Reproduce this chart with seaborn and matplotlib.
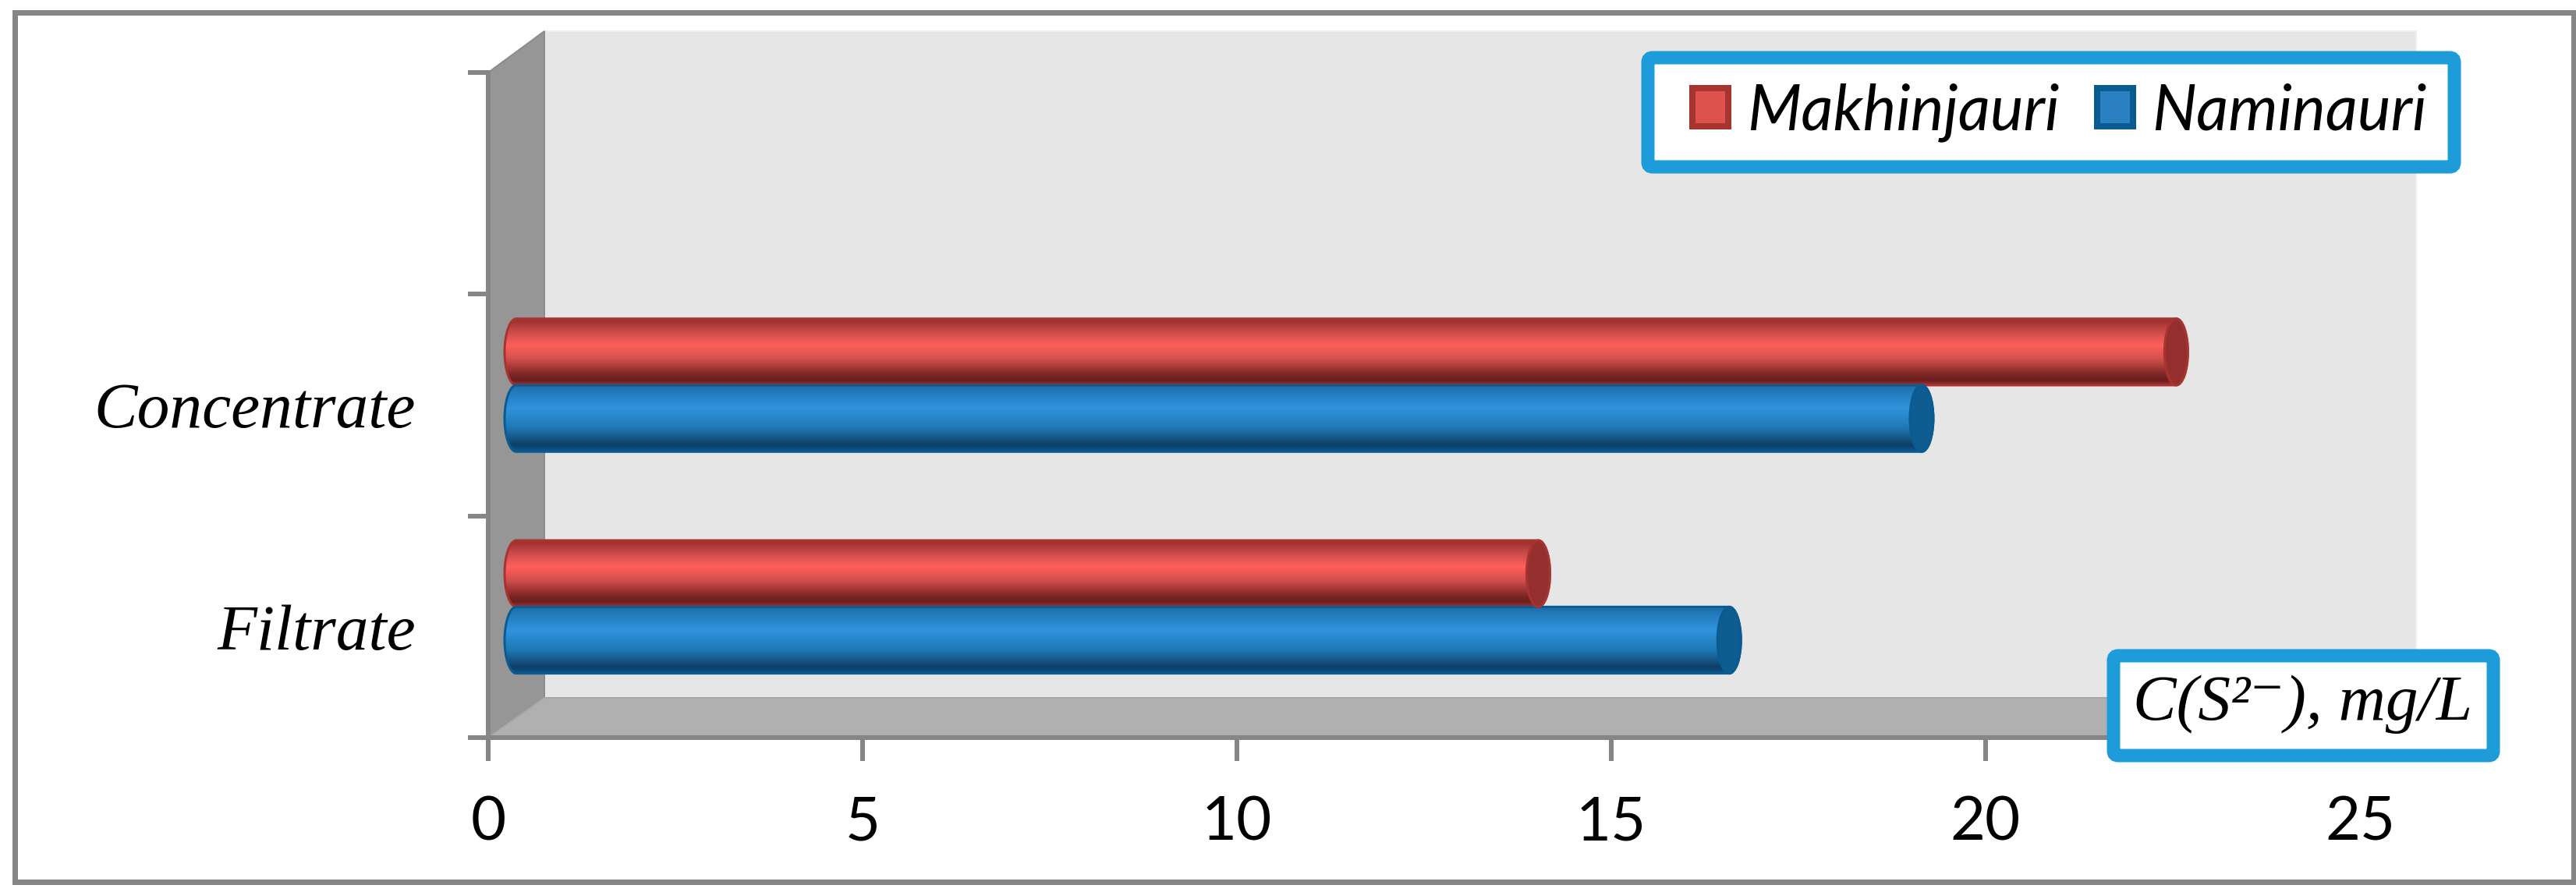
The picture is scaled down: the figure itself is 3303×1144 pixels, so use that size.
import numpy as np
import pandas as pd
import matplotlib
matplotlib.use("Agg")
import matplotlib.pyplot as plt
import seaborn as sns
from matplotlib.colors import LinearSegmentedColormap
from matplotlib.patches import Ellipse, FancyBboxPatch, PathPatch, Polygon, Rectangle
from matplotlib.path import Path
from matplotlib.transforms import Affine2D

sns.set_style("white")

# --- Data ---
categories = ["Concentrate", "Filtrate"]
makhinjauri = [22.17, 13.65]
naminauri = [18.77, 16.2]
series_names = ["Makhinjauri", "Naminauri"]
x_ticks = [0, 5, 10, 15, 20, 25]
axis_note = "C(S²⁻), mg/L"

# --- Colors ---
GREY = "#868686"
BLUE_BOX = "#1E9CD9"
red_stops = [(0, "#A02E2C"), (0.05, "#A23231"), (0.2, "#C84C4A"), (0.4, "#FF5F5B"), (0.6, "#D4504D"),
             (0.85, "#7A2525"), (0.93, "#6A1E1E"), (1, "#A63231")]
blue_stops = [(0, "#1B6CA6"), (0.1, "#2279B8"), (0.35, "#3094DC"), (0.65, "#1F78B4"),
              (0.9, "#0F3F66"), (0.95, "#0C4A78"), (1, "#0A5B92")]
bar_style = {
    "Makhinjauri": dict(stops=red_stops, cap="#93302E", edge="#A83432", fill="#DE524E"),
    "Naminauri": dict(stops=blue_stops, cap="#0E5C90", edge="#0A5B92", fill="#2A80C0"),
}

W, H = 3303, 1144
X0, X25, Y_TOP, Y_BOTTOM = 626, 3026, 93, 946
DEPTH_X, DEPTH_Y = 72, 51
PX = 72 / 100  # points per output pixel

df = pd.DataFrame({
    "category": categories * 2,
    "site": [series_names[0]] * 2 + [series_names[1]] * 2,
    "value": makhinjauri + naminauri,
})

fig = plt.figure(figsize=(W / 100, H / 100), dpi=100, facecolor="white")

# --- Pixel layer behind the chart: frame and 3D walls ---
bg = fig.add_axes([0, 0, 1, 1], zorder=0)
bg.set_xlim(0, W)
bg.set_ylim(H, 0)
bg.axis("off")
bg.add_patch(Rectangle((19, 16), W - 22, H - 29, fc="white", ec=GREY, lw=7 * PX))
bg.add_patch(Rectangle((X0 + DEPTH_X, Y_TOP - 53), X25 - X0, Y_BOTTOM - Y_TOP + 2,
                       fc="#E6E6E6", ec="#EEEEEE", lw=2 * PX))
bg.add_patch(Polygon([(X0, Y_BOTTOM), (X0, Y_TOP), (X0 + DEPTH_X, Y_TOP - 53),
                      (X0 + DEPTH_X, Y_BOTTOM - DEPTH_Y)], fc="#969696", ec="#8C8C8C", lw=2 * PX))
bg.add_patch(Polygon([(X0, Y_BOTTOM), (X0 + DEPTH_X, Y_BOTTOM - DEPTH_Y),
                      (X25 + DEPTH_X, Y_BOTTOM - DEPTH_Y), (X25, Y_BOTTOM)],
                     fc="#B0B0B0", ec="#A8A8A8", lw=2 * PX))
# legend box
bg.add_patch(FancyBboxPatch((2113, 74), 1034, 140, boxstyle="round,pad=0,rounding_size=6",
                            fc="white", ec=BLUE_BOX, lw=17 * PX))

# --- Chart ---
ax = fig.add_axes([X0 / W, 1 - Y_BOTTOM / H, (X25 - X0) / W, (Y_BOTTOM - Y_TOP) / H], zorder=2)
ax.patch.set_alpha(0)
sns.barplot(data=df, y="category", x="value", hue="site", order=[""] + categories,
            hue_order=series_names, width=0.6, gap=0, orient="h", ax=ax)

# bars sit half way into the depth of the 3D box
shift = ax.transData + Affine2D().translate(DEPTH_X / 2, DEPTH_Y / 2)
rx = 15 * 25 / (X25 - X0)


def cylinder_path(x0, x1, y0, y1):
    # rounded left and right ends, written as one outline for clipping
    k = 0.55 * rx
    ym = (y0 + y1) / 2
    ky = 0.55 * (y1 - y0) / 2
    verts = [(x0, y0), (x0 - k, y0), (x0 - rx, ym - ky), (x0 - rx, ym),
             (x0 - rx, ym + ky), (x0 - k, y1), (x0, y1), (x1, y1),
             (x1 + k, y1), (x1 + rx, ym + ky), (x1 + rx, ym),
             (x1 + rx, ym - ky), (x1 + k, y0), (x1, y0), (x0, y0)]
    codes = [Path.MOVETO] + [Path.CURVE4] * 6 + [Path.LINETO] + [Path.CURVE4] * 6 + [Path.CLOSEPOLY]
    return Path(verts, codes)


for container, name in zip(ax.containers, series_names):
    style = bar_style[name]
    cmap = LinearSegmentedColormap.from_list(name, style["stops"])
    gradient = np.linspace(0, 1, 256)[:, None]
    for bar in container:
        x1 = bar.get_width()
        y0, y1 = bar.get_y(), bar.get_y() + bar.get_height()
        bar.set_transform(shift)
        bar.set_facecolor(style["fill"])
        bar.set_edgecolor("none")
        outline = cylinder_path(0, x1, y0, y1)
        im = ax.imshow(gradient, cmap=cmap, aspect="auto", origin="upper",
                       extent=(-rx, x1 + rx, y1, y0), zorder=3)
        im.set_transform(shift)
        im.set_clip_path(outline, transform=shift)
        ax.add_patch(PathPatch(outline, fc="none", ec=style["edge"], lw=3 * PX, transform=shift, zorder=4))
        ax.add_patch(Ellipse((x1, (y0 + y1) / 2), 2 * rx, y1 - y0, fc=style["cap"], ec=style["edge"],
                             lw=3 * PX, transform=shift, zorder=5))

ax.set_xlim(0, 25)
ax.set_ylim(2.5, -0.5)
ax.set_xlabel("")
ax.set_ylabel("")
ax.set_xticks(x_ticks)
ax.set_yticks([1, 2])
ax.set_yticklabels(categories, family="Liberation Serif", style="italic", fontsize=60)
ax.set_yticks([-0.5, 0.5, 1.5, 2.5], minor=True)
ax.tick_params(axis="y", which="major", length=0, pad=93 * PX, labelcolor="black")
ax.tick_params(axis="y", which="minor", left=True, length=26 * PX, width=6 * PX, color=GREY)
ax.tick_params(axis="x", which="major", bottom=True, length=30 * PX, width=6 * PX, color=GREY,
               pad=45 * PX, labelsize=56, labelcolor="black")
for label in ax.get_xticklabels():
    label.set_family("Lato")
for side in ["top", "right"]:
    ax.spines[side].set_visible(False)
for side in ["left", "bottom"]:
    ax.spines[side].set_color(GREY)
    ax.spines[side].set_linewidth(6 * PX)
    ax.spines[side].set_zorder(1)

# --- Legend ---
handles, labels = ax.get_legend_handles_labels()
leg = ax.legend(handles, labels, ncol=2, loc="center left", bbox_to_anchor=(2170 / W, 1 - 144 / H),
                bbox_transform=fig.transFigure, borderaxespad=0, borderpad=0,
                handlelength=0.57, handleheight=0.57, handletextpad=0.3, columnspacing=0.6,
                prop={"family": "Lato", "style": "italic", "size": 58}, frameon=False,
                labelcolor="black")
leg.set_zorder(6)
for handle, name in zip(leg.legend_handles, series_names):
    handle.set_facecolor(bar_style[name]["fill"])
    handle.set_edgecolor(bar_style[name]["edge"])
    handle.set_linewidth(8 * PX)

# --- Unit box goes over the axis ---
top = fig.add_axes([0, 0, 1, 1], zorder=5)
top.set_xlim(0, W)
top.set_ylim(H, 0)
top.axis("off")
top.add_patch(FancyBboxPatch((2710, 841), 487, 128, boxstyle="round,pad=0,rounding_size=6",
                             fc="white", ec=BLUE_BOX, lw=17 * PX))
top.text(2953, 903, axis_note, ha="center", va="center", fontsize=60, style="italic",
         family=["Liberation Serif", "DejaVu Sans"], color="black")

fig.savefig("out.png", dpi=100)
